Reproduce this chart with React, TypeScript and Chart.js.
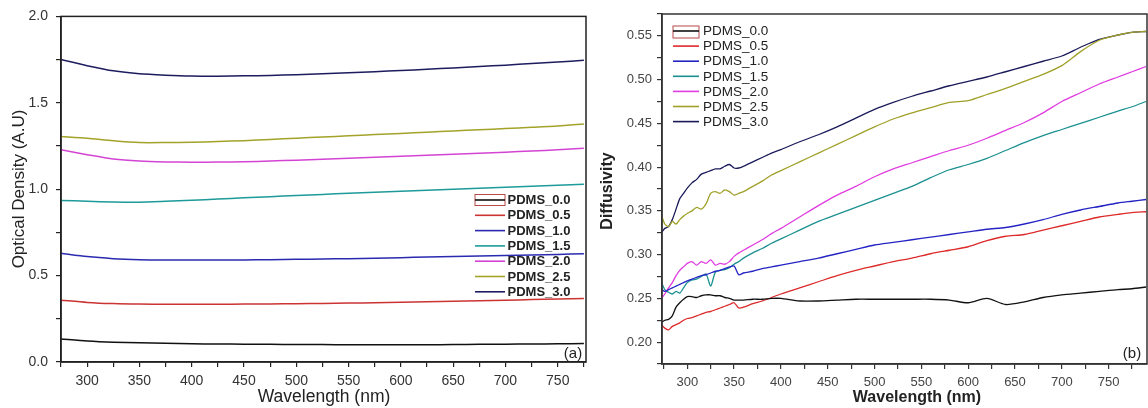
import { useEffect, useRef } from 'react';
import { Chart, registerables } from 'chart.js';

Chart.register(...registerables);

const FONT = "'Liberation Sans', Arial, sans-serif";

// ---------- Panel (a): Optical density ----------
const wavelengthA = [275, 300, 325, 350, 375, 400, 425, 450, 475, 500, 525, 550, 575, 600, 625, 650, 675, 700, 725, 750, 775];

const odPdms00 = [0.133, 0.122, 0.115, 0.111, 0.108, 0.105, 0.104, 0.103, 0.102, 0.101, 0.101, 0.1, 0.1, 0.1, 0.1, 0.101, 0.102, 0.103, 0.104, 0.105, 0.107];
const odPdms05 = [0.358, 0.345, 0.338, 0.335, 0.334, 0.334, 0.334, 0.335, 0.336, 0.337, 0.339, 0.341, 0.343, 0.346, 0.349, 0.352, 0.355, 0.358, 0.361, 0.364, 0.368];
const odPdms10 = [0.63, 0.61, 0.598, 0.592, 0.59, 0.59, 0.59, 0.591, 0.592, 0.594, 0.596, 0.598, 0.601, 0.604, 0.607, 0.61, 0.613, 0.616, 0.619, 0.622, 0.627];
const odPdms15 = [0.935, 0.93, 0.926, 0.925, 0.93, 0.936, 0.943, 0.95, 0.957, 0.964, 0.97, 0.976, 0.982, 0.988, 0.994, 1.0, 1.006, 1.011, 1.017, 1.023, 1.029];
const odPdms20 = [1.228, 1.2, 1.175, 1.163, 1.158, 1.156, 1.157, 1.159, 1.163, 1.168, 1.173, 1.179, 1.185, 1.19, 1.196, 1.202, 1.208, 1.214, 1.221, 1.228, 1.237];
const odPdms25 = [1.305, 1.295, 1.28, 1.27, 1.27, 1.272, 1.276, 1.281, 1.288, 1.295, 1.302, 1.309, 1.316, 1.323, 1.33, 1.337, 1.344, 1.351, 1.358, 1.366, 1.378];
const odPdms30 = [1.75, 1.715, 1.685, 1.668, 1.66, 1.655, 1.654, 1.656, 1.658, 1.663, 1.668, 1.674, 1.68, 1.687, 1.694, 1.702, 1.71, 1.718, 1.727, 1.736, 1.746];

const xTicksA = [275, 300, 325, 350, 375, 400, 425, 450, 475, 500, 525, 550, 575, 600, 625, 650, 675, 700, 725, 750, 775];
const yTicksA = [0, 0.25, 0.5, 0.75, 1.0, 1.25, 1.5, 1.75, 2.0];

// ---------- Panel (b): Diffusivity ----------
const wavelengthB = [273, 276, 280, 284, 288, 292, 296, 300, 305, 310, 315, 320, 325, 330, 335, 340, 345, 350, 355, 360, 370, 380, 390, 400, 420, 440, 460, 480, 500, 520, 540, 560, 580, 600, 620, 640, 660, 680, 700, 720, 740, 760, 775, 790];

const dfPdms00 = [0.223, 0.225, 0.226, 0.23, 0.24, 0.245, 0.249, 0.252, 0.252, 0.251, 0.253, 0.254, 0.254, 0.253, 0.253, 0.251, 0.25, 0.248, 0.248, 0.248, 0.249, 0.249, 0.25, 0.25, 0.247, 0.247, 0.248, 0.249, 0.249, 0.249, 0.249, 0.249, 0.248, 0.245, 0.25, 0.243, 0.246, 0.251, 0.254, 0.256, 0.258, 0.26, 0.261, 0.263];
const dfPdms05 = [0.219, 0.216, 0.214, 0.218, 0.22, 0.222, 0.225, 0.227, 0.228, 0.23, 0.232, 0.234, 0.235, 0.237, 0.239, 0.241, 0.243, 0.245, 0.239, 0.24, 0.244, 0.247, 0.251, 0.255, 0.262, 0.269, 0.276, 0.282, 0.287, 0.292, 0.296, 0.301, 0.305, 0.309, 0.316, 0.321, 0.323, 0.328, 0.333, 0.338, 0.343, 0.346, 0.348, 0.349];
const dfPdms10 = [0.26, 0.258, 0.26, 0.262, 0.264, 0.266, 0.268, 0.27, 0.272, 0.274, 0.276, 0.277, 0.279, 0.281, 0.282, 0.284, 0.286, 0.287, 0.277, 0.279, 0.281, 0.284, 0.286, 0.288, 0.292, 0.296, 0.301, 0.306, 0.311, 0.314, 0.317, 0.32, 0.323, 0.326, 0.329, 0.331, 0.335, 0.34, 0.346, 0.351, 0.355, 0.359, 0.361, 0.363];
const dfPdms15 = [0.267, 0.26, 0.257, 0.255, 0.258, 0.256, 0.262, 0.268, 0.271, 0.272, 0.275, 0.278, 0.264, 0.28, 0.282, 0.283, 0.285, 0.289, 0.292, 0.296, 0.302, 0.307, 0.313, 0.318, 0.328, 0.338, 0.346, 0.354, 0.362, 0.37, 0.378, 0.388, 0.397, 0.403, 0.41, 0.419, 0.428, 0.436, 0.443, 0.45, 0.457, 0.464, 0.469, 0.475];
const dfPdms20 = [0.251, 0.255, 0.262, 0.268, 0.276, 0.282, 0.286, 0.29, 0.292, 0.288, 0.292, 0.29, 0.294, 0.288, 0.29, 0.289, 0.292, 0.298, 0.302, 0.305, 0.311, 0.317, 0.324, 0.33, 0.343, 0.356, 0.368, 0.378, 0.389, 0.398, 0.405, 0.412, 0.419, 0.425, 0.433, 0.442, 0.451, 0.462, 0.475, 0.485, 0.495, 0.503, 0.509, 0.515];
const dfPdms25 = [0.343, 0.335, 0.332, 0.338, 0.335, 0.34, 0.344, 0.347, 0.35, 0.354, 0.352, 0.358, 0.37, 0.372, 0.37, 0.374, 0.372, 0.368, 0.37, 0.372, 0.378, 0.384, 0.391, 0.396, 0.406, 0.416, 0.426, 0.436, 0.446, 0.455, 0.462, 0.468, 0.474, 0.476, 0.483, 0.49, 0.498, 0.506, 0.516, 0.532, 0.545, 0.551, 0.554, 0.555];
const dfPdms30 = [0.326, 0.33, 0.332, 0.34, 0.352, 0.364, 0.37, 0.376, 0.382, 0.386, 0.392, 0.394, 0.396, 0.398, 0.398, 0.401, 0.403, 0.399, 0.399, 0.401, 0.406, 0.411, 0.416, 0.42, 0.429, 0.437, 0.446, 0.456, 0.466, 0.474, 0.481, 0.487, 0.493, 0.498, 0.503, 0.509, 0.515, 0.521, 0.527, 0.537, 0.546, 0.551, 0.554, 0.555];

const xTicksB = [275, 300, 325, 350, 375, 400, 425, 450, 475, 500, 525, 550, 575, 600, 625, 650, 675, 700, 725, 750, 775];
const yTicksB = [0.175, 0.2, 0.225, 0.25, 0.275, 0.3, 0.325, 0.35, 0.375, 0.4, 0.425, 0.45, 0.475, 0.5, 0.525, 0.55, 0.575];

const seriesLabels = ['PDMS_0.0', 'PDMS_0.5', 'PDMS_1.0', 'PDMS_1.5', 'PDMS_2.0', 'PDMS_2.5', 'PDMS_3.0'];
const colorsA = ['#111111', '#cc3333', '#2a2ab0', '#1f9a9a', '#d444d4', '#a3a32a', '#1c1c5e'];
const colorsB = ['#111111', '#dd2a2a', '#2424c4', '#1c9090', '#e03ce0', '#a0a028', '#1a1a5a'];

const seriesA = [odPdms00, odPdms05, odPdms10, odPdms15, odPdms20, odPdms25, odPdms30];
const seriesB = [dfPdms00, dfPdms05, dfPdms10, dfPdms15, dfPdms20, dfPdms25, dfPdms30];

type DecorCfg = {
  frameColor: string;
  xTitle: string; xTitleFont: string; xTitleX: number; xTitleY: number;
  yTitle: string; yTitleFont: string; yTitleX: number; yTitleY: number;
  legendX0: number; legendX1: number; legendTextX: number; legendY0: number; legendDy: number; legendFont: string;
  legendBoxTop: number; legendBoxH: number;
  panel: string; panelX: number; panelY: number; panelFont: string;
  textColor: string;
};

function decorPlugin(cfg: DecorCfg) {
  return {
    id: 'decor',
    afterDraw(chart: any) {
      const ctx: CanvasRenderingContext2D = chart.ctx;
      const ca = chart.chartArea;
      ctx.save();
      // frame
      ctx.strokeStyle = cfg.frameColor;
      ctx.lineWidth = 1.5;
      ctx.strokeRect(ca.left, ca.top, ca.right - ca.left, ca.bottom - ca.top);
      ctx.fillStyle = cfg.textColor;
      // x title
      ctx.font = cfg.xTitleFont;
      ctx.textAlign = 'center';
      ctx.textBaseline = 'middle';
      ctx.fillText(cfg.xTitle, cfg.xTitleX, cfg.xTitleY);
      // y title
      ctx.save();
      ctx.translate(cfg.yTitleX, cfg.yTitleY);
      ctx.rotate(-Math.PI / 2);
      ctx.font = cfg.yTitleFont;
      ctx.fillText(cfg.yTitle, 0, 0);
      ctx.restore();
      // panel label
      ctx.font = cfg.panelFont;
      ctx.fillStyle = cfg.textColor;
      ctx.textAlign = 'center';
      ctx.fillText(cfg.panel, cfg.panelX, cfg.panelY);
      // legend
      ctx.font = cfg.legendFont;
      ctx.textAlign = 'left';
      chart.data.datasets.forEach((ds: any, i: number) => {
        const y = cfg.legendY0 + i * cfg.legendDy;
        if (i === 0) {
          ctx.strokeStyle = '#b84a4a';
          ctx.lineWidth = 1;
          ctx.strokeRect(cfg.legendX0, cfg.legendBoxTop, cfg.legendX1 - cfg.legendX0, cfg.legendBoxH);
        }
        ctx.strokeStyle = ds.borderColor;
        ctx.lineWidth = 1.6;
        ctx.beginPath();
        ctx.moveTo(cfg.legendX0, y);
        ctx.lineTo(cfg.legendX1, y);
        ctx.stroke();
        ctx.fillStyle = cfg.textColor;
        ctx.fillText(ds.label, cfg.legendTextX, y + 0.5);
      });
      ctx.restore();
    },
  };
}

function makeConfig(opts: {
  xs: number[]; ys: number[][]; colors: string[];
  xMin: number; xMax: number; yMin: number; yMax: number;
  xTicks: number[]; yTicks: number[];
  xLabel: (v: number) => string; yLabel: (v: number, i: number) => string;
  yWidth: number; xHeight: number; padTop: number; padRight: number;
  tickFont: number; tickColor: string; yPad: number; xPad: number;
  lineWidth: number; axisColor: string; decor: DecorCfg;
}) {
  const datasets = opts.ys.map((vals, i) => ({
    label: seriesLabels[i],
    data: vals.map((v, j) => ({ x: opts.xs[j], y: v })),
    borderColor: opts.colors[i],
    backgroundColor: opts.colors[i],
    borderWidth: opts.lineWidth,
    pointRadius: 0,
    tension: 0.25,
    fill: false,
  }));
  return {
    type: 'line' as const,
    data: { datasets },
    options: {
      animation: false as const,
      responsive: false,
      devicePixelRatio: 1,
      layout: { padding: { top: opts.padTop, right: opts.padRight, left: 0, bottom: 0 } },
      plugins: { legend: { display: false }, tooltip: { enabled: false } },
      scales: {
        x: {
          type: 'linear' as const,
          min: opts.xMin,
          max: opts.xMax,
          afterBuildTicks: (s: any) => { s.ticks = opts.xTicks.map((v) => ({ value: v })); },
          afterFit: (s: any) => { s.height = opts.xHeight; },
          ticks: {
            autoSkip: false, maxRotation: 0, minRotation: 0,
            padding: opts.xPad,
            color: opts.tickColor,
            font: { family: FONT, size: opts.tickFont },
            callback: (v: any) => opts.xLabel(Number(v)),
          },
          grid: { drawOnChartArea: false, drawTicks: true, tickLength: 5, color: opts.axisColor, lineWidth: 1.2 },
          border: { display: true, color: opts.axisColor, width: 1.5 },
        },
        y: {
          type: 'linear' as const,
          min: opts.yMin,
          max: opts.yMax,
          afterBuildTicks: (s: any) => { s.ticks = opts.yTicks.map((v) => ({ value: v })); },
          afterFit: (s: any) => { s.width = opts.yWidth; },
          ticks: {
            autoSkip: false,
            padding: opts.yPad,
            color: opts.tickColor,
            font: { family: FONT, size: opts.tickFont },
            callback: (v: any, i: number) => opts.yLabel(Number(v), i),
          },
          grid: { drawOnChartArea: false, drawTicks: true, tickLength: 5, color: opts.axisColor, lineWidth: 1.2 },
          border: { display: true, color: opts.axisColor, width: 1.5 },
        },
      },
    },
    plugins: [decorPlugin(opts.decor)],
  };
}

export default function App() {
  const refA = useRef<HTMLCanvasElement | null>(null);
  const refB = useRef<HTMLCanvasElement | null>(null);

  useEffect(() => {
    const cfgA = makeConfig({
      xs: wavelengthA, ys: seriesA, colors: colorsA,
      xMin: 275, xMax: 777, yMin: 0, yMax: 2,
      xTicks: xTicksA, yTicks: yTicksA,
      xLabel: (v) => (v % 50 === 0 ? String(v) : ''),
      yLabel: (v, i) => (i % 2 === 0 ? v.toFixed(1) : ''),
      yWidth: 61, xHeight: 46, padTop: 16, padRight: 4,
      tickFont: 14, tickColor: '#333', yPad: 8, xPad: 6,
      lineWidth: 1.5, axisColor: '#222',
      decor: {
        frameColor: '#222', textColor: '#222',
        xTitle: 'Wavelength (nm)', xTitleFont: `17.5px ${FONT}`, xTitleX: 324, xTitleY: 397,
        yTitle: 'Optical Density (A.U)', yTitleFont: `17px ${FONT}`, yTitleX: 19, yTitleY: 189,
        legendX0: 475, legendX1: 505, legendTextX: 507.5, legendY0: 200, legendDy: 15.3,
        legendFont: `bold 13px ${FONT}`, legendBoxTop: 194.5, legendBoxH: 11,
        panel: '(a)', panelX: 573, panelY: 354, panelFont: `15px ${FONT}`,
      },
    });
    const cfgB = makeConfig({
      xs: wavelengthB, ys: seriesB, colors: colorsB,
      xMin: 273, xMax: 791, yMin: 0.175, yMax: 0.575,
      xTicks: xTicksB, yTicks: yTicksB,
      xLabel: (v) => (v % 50 === 0 ? String(v) : ''),
      yLabel: (v, i) => (i % 2 === 1 ? v.toFixed(2) : ''),
      yWidth: 72, xHeight: 44, padTop: 14, padRight: 1,
      tickFont: 13, tickColor: '#444', yPad: 5, xPad: 6,
      lineWidth: 1.3, axisColor: '#333',
      decor: {
        frameColor: '#333', textColor: '#222',
        xTitle: 'Wavelength (nm)', xTitleFont: `bold 16px ${FONT}`, xTitleX: 327, xTitleY: 398,
        yTitle: 'Diffusivity', yTitleFont: `bold 16px ${FONT}`, yTitleX: 18, yTitleY: 191,
        legendX0: 83, legendX1: 109, legendTextX: 113, legendY0: 31, legendDy: 15.1,
        legendFont: `13.5px ${FONT}`, legendBoxTop: 26, legendBoxH: 12,
        panel: '(b)', panelX: 542, panelY: 354, panelFont: `15px ${FONT}`,
      },
    });
    const a = new Chart(refA.current as HTMLCanvasElement, cfgA as any);
    const b = new Chart(refB.current as HTMLCanvasElement, cfgB as any);
    return () => { a.destroy(); b.destroy(); };
  }, []);

  return (
    <div style={{ position: 'absolute', left: 0, top: 0, width: 1148, height: 408, background: '#fff', overflow: 'hidden' }}>
      <canvas ref={refA} width={590} height={408} style={{ position: 'absolute', left: 0, top: 0, width: 590, height: 408 }} />
      <canvas ref={refB} width={558} height={408} style={{ position: 'absolute', left: 590, top: 0, width: 558, height: 408 }} />
    </div>
  );
}
